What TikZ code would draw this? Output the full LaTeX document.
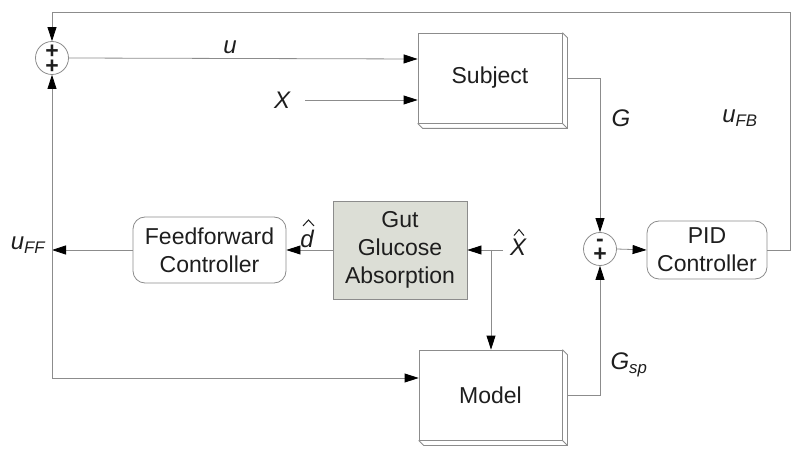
\documentclass[tikz,border=0pt]{standalone}
\usepackage{fontspec}
\setmainfont{Liberation Sans}
\usetikzlibrary{arrows.meta,calc}
\definecolor{lg}{RGB}{140,140,140}
\definecolor{gutfill}{RGB}{220,222,214}
\definecolor{txt}{RGB}{30,30,30}
\newcommand\bevelbox[1]{%
  \draw[gl] (#1.north east) -- ++(5,5) -- ($(#1.south east)+(5,5)$) -- ($(#1.south west)+(5,5)$) -- (#1.south west);
  \draw[gl] (#1.south east) -- ++(5,5);}
\begin{document}
\begin{tikzpicture}[x=1pt,y=-1pt,
  gl/.style={draw=lg,line width=0.8pt},
  sig/.style={gl,-{Triangle[length=14pt,width=9pt,color=black,fill=black]}},
  blk/.style={gl,fill=white,inner sep=0pt,align=center,font=\fontsize{23}{28}\selectfont,text=txt},
  rbox/.style={blk,rounded corners=12pt},
  sumnode/.style={gl,circle,minimum size=33pt,inner sep=0pt},
  sign/.style={font=\fontsize{23}{15}\selectfont\bfseries,inner sep=0pt,align=center,text=txt},
  lab/.style={font=\fontsize{24}{24}\selectfont\itshape,inner sep=0pt,text=txt},
  hat/.style={draw=txt,line width=1pt}]
\useasboundingbox (0,0) rectangle (800,462);

% blocks
\node[blk,minimum width=144pt,minimum height=90pt] (subj) at (490,78) {Subject};
\bevelbox{subj}
\node[blk,minimum width=143pt,minimum height=90pt] (model) at (490.5,395) {Model};
\bevelbox{model}
\node[blk,fill=gutfill,minimum width=134pt,minimum height=98pt] (gut) at (400,250) {Gut\\Glucose\\Absorption};
\node[rbox,minimum width=153pt,minimum height=66pt] (ff) at (209.5,250) {Feedforward\\Controller};
\node[rbox,minimum width=120pt,minimum height=58pt] (pid) at (707,250) {PID\\Controller};

% summing junctions
\node[sumnode] (s1) at (52,58) {};
\node[sign] at ($(s1)+(0,1)$) {+\\+};
\node[sumnode] (s2) at (600,249) {};
\node[sign] at ($(s2)+(0,1)$) {-\\+};

% coordinates
\coordinate (tr) at (790,12);
\coordinate (tl) at (52,12);
\coordinate (xin) at (305,100);
\coordinate (xh) at (503,250);
\coordinate (br) at (491,250);
\coordinate (lb) at (52,378);
\coordinate (lm) at (52,250);

% connectors
\draw[sig] (pid.east) -- (790,250) -- (tr) -- (tl) -- (s1.north);
\draw[sig] (s1.east) -- (subj.west |- 0,59);
\draw[sig] (xin) -- (subj.west |- xin);
\draw[sig] ($(subj.east)+(5,0)$) -| (s2.north);
\draw[sig] (s2.east) -- (pid.west);
\draw[sig] ($(model.east)+(5,0)$) -| (s2.south);
\draw[sig] (xh) -- (gut.east);
\draw[sig] (br) -- (model.north -| br);
\draw[sig] (gut.west) -- (ff.east);
\draw[sig] (ff.west) -- (lm);
\draw[sig] (lb) -- (s1.south);
\draw[sig] (lb) -- (model.west |- lb);

% labels
\node[lab] at (230,47) {u};
\node[lab] at (282,100) {X};
\node[lab] at (621,118) {G};
\node[lab] at (740,118) {u\textsubscript{FB}};
\node[lab] at (28,245) {u\textsubscript{FF}};
\node[lab] at (629,365) {G\textsubscript{sp}};
\node[lab] (xhat) at (518,247) {X};
\draw[hat] ($(xhat.north)+(-4,-3)$) -- ($(xhat.north)+(1,-9)$) -- ($(xhat.north)+(6,-3)$);
\node[lab] (dhat) at (307,239) {d};
\draw[hat] ($(dhat.north)+(-4,-4)$) -- ($(dhat.north)+(1.5,-10)$) -- ($(dhat.north)+(7,-4)$);
\end{tikzpicture}
\end{document}
